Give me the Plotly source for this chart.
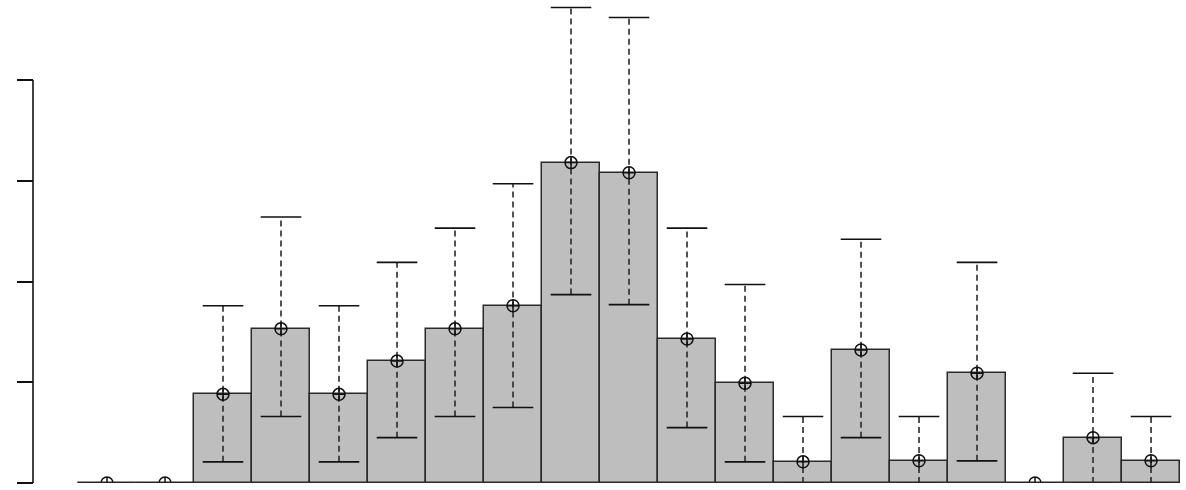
import plotly.graph_objects as go

# bin index (categories), heights, and error bar limits (in y-axis tick units)
bins = list(range(1, 20))
heights = [0, 0, 0.88, 1.53, 0.88, 1.21, 1.53, 1.76, 3.18, 3.08, 1.43, 0.99,
           0.21, 1.32, 0.22, 1.09, 0, 0.45, 0.22]
upper = [0, 0, 1.76, 2.64, 1.76, 2.19, 2.53, 2.97, 4.72, 4.62, 2.53, 1.97,
         0.66, 2.42, 0.66, 2.19, 0, 1.09, 0.66]
lower = [0, 0, 0.21, 0.66, 0.21, 0.45, 0.66, 0.75, 1.87, 1.77, 0.55, 0.21,
         0, 0.45, 0, 0.22, 0, 0, 0]
y_ticks = [0, 1, 2, 3, 4]

W, H = 1186, 490
x_range = [-0.845, 19.603]
y_range = [0, 4.794]
axis_pos = 33 / W
dark = "#2a2a2a"

fig = go.Figure()

fig.add_trace(go.Bar(
    x=bins, y=heights, width=1.0,
    marker=dict(color="#bebebe", line=dict(color=dark, width=1.5)),
    showlegend=False, hoverinfo="skip",
))

# dashed stems
sx, sy = [], []
for b, lo, hi in zip(bins, lower, upper):
    sx += [b, b, None]
    sy += [lo, hi, None]
fig.add_trace(go.Scatter(
    x=sx, y=sy, mode="lines",
    line=dict(color=dark, width=1.6, dash="6px,4px"),
    showlegend=False, hoverinfo="skip",
))

# caps
fig.add_trace(go.Scatter(
    x=bins + bins, y=upper + lower, mode="markers",
    marker=dict(symbol="line-ew", size=29, line=dict(color="#111111", width=1.6)),
    showlegend=False, hoverinfo="skip",
))

# circle-plus markers
fig.add_trace(go.Scatter(
    x=bins, y=heights, mode="markers",
    marker=dict(symbol="circle-cross-open", size=12, color="#111111",
                line=dict(color="#111111", width=1.5)),
    showlegend=False, hoverinfo="skip",
))

fig.add_shape(type="line", xref="paper", yref="y",
              x0=axis_pos, x1=axis_pos, y0=min(y_ticks), y1=max(y_ticks),
              line=dict(color="#111111", width=1.6))
fig.add_shape(type="line", xref="x", yref="y",
              x0=bins[0] - 0.5, x1=bins[-1] + 0.5, y0=0, y1=0,
              line=dict(color=dark, width=1.5))

fig.update_layout(
    width=W, height=H, autosize=False,
    margin=dict(l=0, r=0, t=0, b=7),
    plot_bgcolor="white", paper_bgcolor="white",
    bargap=0,
    xaxis=dict(range=x_range, visible=False, showgrid=False, zeroline=False),
    yaxis=dict(range=y_range, tickvals=y_ticks, showticklabels=False,
               ticks="outside", ticklen=16, tickwidth=1.6, tickcolor="#111111",
               anchor="free", position=axis_pos, showline=False,
               showgrid=False, zeroline=False),
)

fig.write_html("out.html")
